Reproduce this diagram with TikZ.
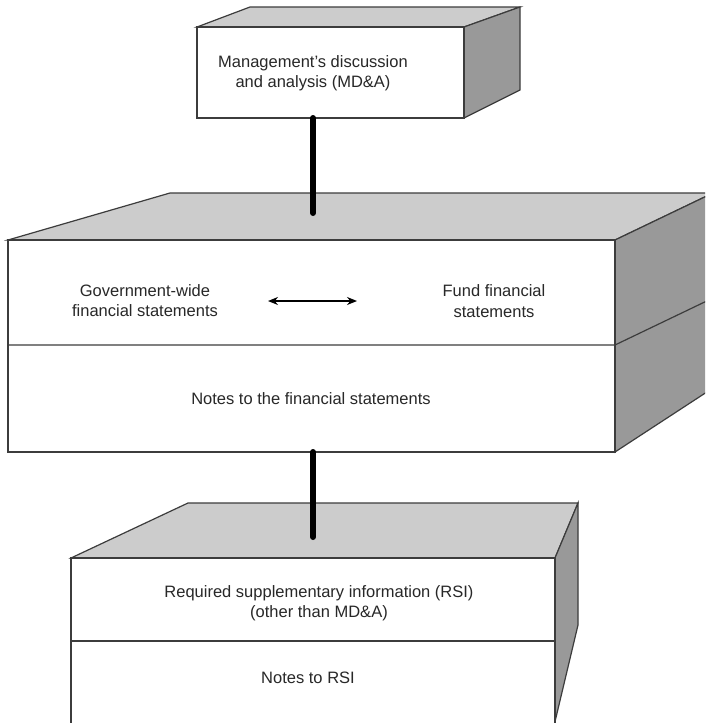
\documentclass[tikz,border=0pt]{standalone}
\usepackage{fontspec}
\setmainfont{Liberation Sans}
\usetikzlibrary{arrows.meta}
\definecolor{topface}{RGB}{204,204,204}
\definecolor{sideface}{RGB}{153,153,153}
\definecolor{edgegray}{RGB}{60,60,60}
\definecolor{labelgray}{RGB}{40,40,40}

\begin{document}
\begin{tikzpicture}[x=1pt,y=-1pt]

\tikzset{
  box edge/.style={draw=edgegray, line width=1.2pt, line join=miter},
  box label/.style={align=center, text=labelgray,
    font=\fontsize{16.5}{20.5}\selectfont},
  stem/.style={black, line width=6pt, line cap=round}
}

% Each box is given by its front face, its top face and its side face:
% \slab{front corner}{front corner}{top polygon}{side polygon}
\newcommand{\slab}[4]{%
  \filldraw[box edge, fill=topface] #3 -- cycle;
  \filldraw[box edge, fill=sideface] #4 -- cycle;
  \filldraw[box edge, fill=white] #1 rectangle #2;
}

\useasboundingbox (0,0) rectangle (705,723);
\clip (0,0) rectangle (705,723);
\fill[white] (0,0) rectangle (705,723);

% Top box: MD&A.
\slab{(197,27)}{(464,118)}
  {(197,27) -- (250,7) -- (520,7) -- (464,27)}
  {(464,27) -- (520,7) -- (520,90) -- (464,118)}
\node[box label] (mda) at (313,73)
  {Management's discussion\\and analysis (MD\&A)};
\coordinate (mda foot) at (313,118);

% Middle box: basic financial statements.
\slab{(8,240)}{(615,452)}
  {(8,240) -- (170,193) -- (713,193) -- (615,240)}
  {(615,240) -- (713,193) -- (713,388) -- (615,452)}
\draw[box edge] (8,345) -- (615,345) -- (713,298);
\coordinate (basic top) at (313,213);
\coordinate (basic foot) at (313,452);
\node[box label] (govwide) at (145,300.5)
  {Government-wide\\financial statements};
\node[box label] (fund) at (494,301)
  {Fund financial\\statements};
\node[box label] (notes) at (311,399)
  {Notes to the financial statements};
\coordinate (pair left) at (268,301);
\coordinate (pair right) at (357,301);

% Bottom box: RSI.
\slab{(71,558)}{(555,730)}
  {(71,558) -- (188,503) -- (578,503) -- (555,558)}
  {(555,558) -- (578,503) -- (578,625) -- (553,730)}
\draw[box edge] (71,641) -- (555,641);
\coordinate (rsi top) at (313,537);
\node[box label] (rsi) at (319,603)
  {Required supplementary information (RSI)\\(other than MD\&A)};
\node[box label] (rsinotes) at (308,678) {Notes to RSI};

% Connectors.
\draw[stem] (mda foot) -- (basic top);
\draw[stem] (basic foot) -- (rsi top);
\draw[black, line width=1.5pt, {Stealth[length=10pt,width=8pt]}-{Stealth[length=10pt,width=8pt]}]
  (pair left) -- (pair right);

\end{tikzpicture}
\end{document}
